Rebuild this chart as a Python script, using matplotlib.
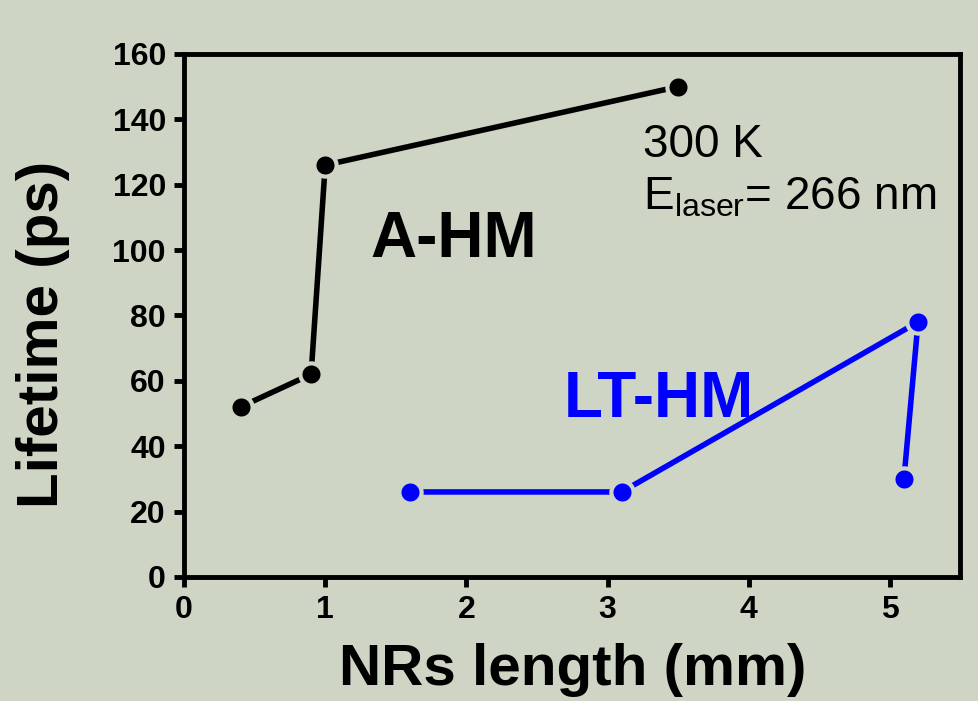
import matplotlib
matplotlib.use("Agg")
import matplotlib.pyplot as plt

plt.rcParams['font.family'] = ['Liberation Sans', 'DejaVu Sans']

# Nanorod length (mm) vs. lifetime (ps)
ahm_length = [0.4, 0.9, 1.0, 3.5]
ahm_lifetime = [52, 62, 126, 150]
lthm_length = [1.6, 3.1, 5.2, 5.1]
lthm_lifetime = [26, 26, 78, 30]

x_ticks = [0, 1, 2, 3, 4, 5]
y_ticks = [0, 20, 40, 60, 80, 100, 120, 140, 160]

bg = '#CFD5C5'

fig = plt.figure(figsize=(9.79, 7.01), dpi=100, facecolor=bg)
ax = fig.add_axes([0.188, 0.177, 0.793, 0.746], facecolor=bg)

for xs, ys, col in [(ahm_length, ahm_lifetime, 'black'),
                    (lthm_length, lthm_lifetime, '#0000FF')]:
    ax.plot(xs, ys, color=col, lw=4, solid_capstyle='butt', zorder=2)
    ax.plot(xs, ys, ls='none', marker='o', ms=16, mfc=col, mec=bg,
            mew=3, zorder=3)

ax.set_xlim(0, 5.5)
ax.set_ylim(0, 160)
ax.set_xticks(x_ticks)
ax.set_yticks(y_ticks)
ax.tick_params(direction='out', length=7, width=3.5, labelsize=23,
               pad=6)
for lab in ax.get_xticklabels() + ax.get_yticklabels():
    lab.set_fontweight('bold')
for s in ax.spines.values():
    s.set_linewidth(3.5)

ax.set_xlabel('NRs length (mm)', fontsize=42, fontweight='bold', labelpad=13)
ax.set_ylabel('Lifetime (ps)', fontsize=42, fontweight='bold')
ax.yaxis.set_label_coords(-0.147, 0.463)

ax.text(1.32, 103, 'A-HM', fontsize=46, fontweight='bold', color='black',
        va='center', ha='left')
ax.text(2.69, 54, 'LT-HM', fontsize=46, fontweight='bold', color='#0000FF',
        va='center', ha='left')
ax.text(3.25, 132, '300 K', fontsize=33, va='center', ha='left')
ax.text(3.25, 116, r'E$_{\mathregular{laser}}$= 266 nm', fontsize=33,
        va='center', ha='left')

fig.savefig('out.png', dpi=100, facecolor=bg)
